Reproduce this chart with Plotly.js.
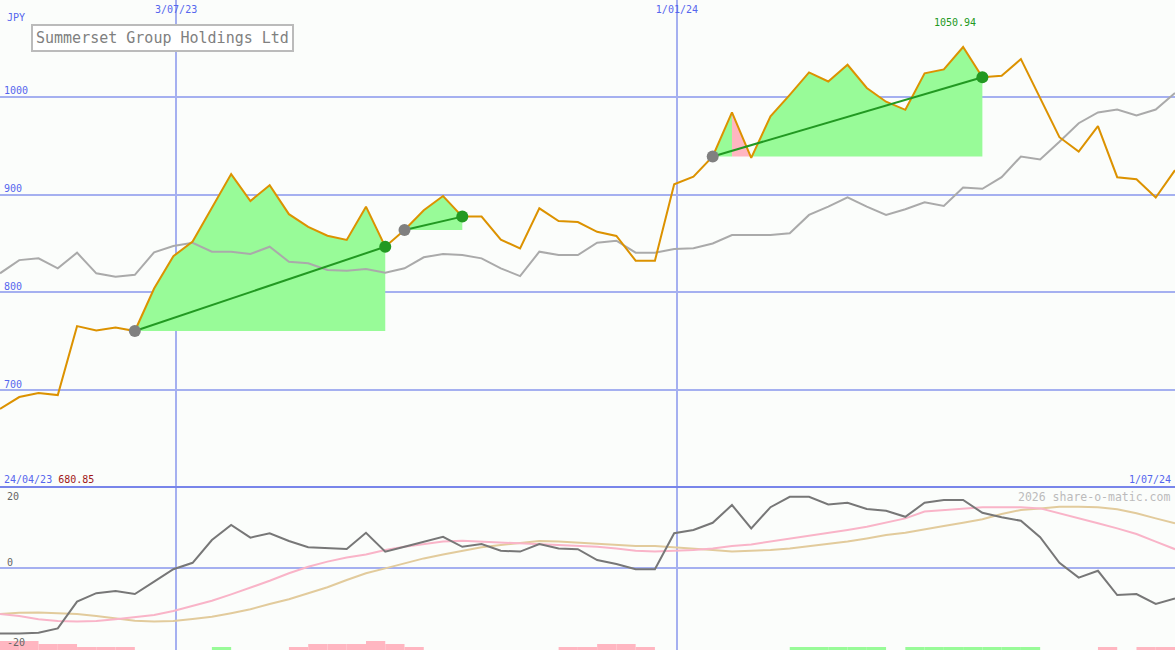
<!DOCTYPE html>
<html>
<head>
<meta charset="utf-8">
<script src="https://cdn.plot.ly/plotly-3.0.1.min.js"></script>
<style>html,body{margin:0;padding:0;background:#fbfdfb;}#chart{width:1175px;height:650px;}</style>
</head>
<body>
<div id="chart"></div>
<script>
// ---- data (weekly) ----
const dates = ['2023-04-30','2023-05-07','2023-05-14','2023-05-21','2023-05-28','2023-06-04','2023-06-11','2023-06-18','2023-06-25',
'2023-07-02','2023-07-09','2023-07-16','2023-07-23','2023-07-30','2023-08-06','2023-08-13','2023-08-20','2023-08-27',
'2023-09-03','2023-09-10','2023-09-17','2023-09-24','2023-10-01','2023-10-08','2023-10-15','2023-10-22','2023-10-29',
'2023-11-05','2023-11-12','2023-11-19','2023-11-26','2023-12-03','2023-12-10','2023-12-17','2023-12-24','2023-12-31',
'2024-01-07','2024-01-14','2024-01-21','2024-01-28','2024-02-04','2024-02-11','2024-02-18','2024-02-25','2024-03-03',
'2024-03-10','2024-03-17','2024-03-24','2024-03-31','2024-04-07','2024-04-14','2024-04-21','2024-04-28','2024-05-05',
'2024-05-12','2024-05-19','2024-05-26','2024-06-02','2024-06-09','2024-06-16','2024-06-23','2024-06-30'];

const price = [680.85,693,697,695,765.5,761,764,760.5,804,837,852,886,921,893.5,909.6,880,867,858,853.6,887.7,
846.7,863.8,884,898.6,877.5,877.5,854,845,886,873,872,862,857.7,832.4,832.4,910.6,918.4,939,984,937.5,
980,1002,1025,1015.7,1032.8,1009,995,986.7,1024,1028,1050.94,1020,1021.5,1038.6,998,958.7,944,970,917.8,915.7,
897,925];

const relative = [819.5,833,834.8,824.6,840.6,819.5,816,818,841,847.5,850.8,841.6,841.6,839.3,846.7,831.4,829.7,822.9,822.2,824,
820.1,824.6,835.9,839.3,838.2,834.8,824.6,816.7,841.6,838.2,838.2,850.8,852.9,840.6,840.6,844.4,845.1,850,858.7,858.7,
858.7,860.4,879.2,887.7,897.3,887.7,879.2,885,892.2,888.4,907.2,906,917.8,939,936,954,973,984,987,981,
987,1004];

const macd = [-16.4,-16.4,-16.2,-15.1,-8.4,-6.3,-5.75,-6.5,-3.4,-0.3,1.3,7,10.75,7.6,8.7,6.75,5.2,4.9,4.75,8.8,
4.1,5.3,6.6,7.8,5.3,6,4.3,4.1,6,4.9,4.7,2,1,-0.3,-0.3,8.7,9.5,11.3,15.75,9.9,
15.2,17.8,17.8,15.9,16.3,14.75,14.3,12.8,16.3,17,17,13.8,12.7,11.8,7.7,1.3,-2.4,-0.7,-6.75,-6.5,
-9,-7.6];

const signalPink = [-11.5,-12,-12.8,-13.25,-13.4,-13.25,-12.8,-12.3,-11.75,-10.75,-9.5,-8.2,-6.6,-4.9,-3.2,-1.3,0.3,1.6,2.6,3.4,
4.5,5.3,6,6.6,6.8,6.6,6.3,6.2,6,5.7,5.5,5.3,4.9,4.3,4.1,4.3,4.5,4.9,5.5,5.9,
6.6,7.4,8,8.7,9.5,10.3,11.3,12.4,14.1,14.5,14.9,15.2,15.2,15.2,14.9,13.7,12.4,11.2,9.9,8.5,
6.6,4.7];

const signalTan = [-11.5,-11.2,-11.1,-11.3,-11.5,-12,-12.6,-13.2,-13.4,-13.25,-12.75,-12.2,-11.3,-10.3,-9,-7.8,-6.3,-4.8,-3,-1.3,
-0.1,1.2,2.4,3.4,4.3,5.2,5.75,6.3,6.75,6.6,6.3,6,5.75,5.5,5.5,5.2,4.9,4.5,4.1,4.3,
4.5,4.9,5.5,6,6.6,7.4,8.25,8.8,9.7,10.5,11.3,12.2,13.5,14.5,14.9,15.3,15.3,15.2,14.7,13.7,
12.4,11.2];

// strip levels (negative = pink, positive = green)
const strip = [-3,-3,-2,-2,-1,-1,-1,0,0,0,0,1,0,0,0,-1,-2,-2,-2,-3,
-2,-1,0,0,0,0,0,0,0,-1,-1,-2,-2,-1,0,0,0,0,0,0,
0,1,1,1,1,1,0,1,1,1,1,1,1,1,0,0,0,-1,0,-1,
-1,0];

const tradeEntry = [7, 21, 37];
const tradeExit = [20, 24, 51];

const xTickVals = ['2023-07-03','2024-01-01'];
const xTickText = ['3/07/23','1/01/24'];
const yTickVals = [700, 800, 900, 1000];
const bottomTicks = [20, 0, -20];
const titleText = 'Summerset Group Holdings Ltd';
const currency = 'JPY';
const startLabel = '24/04/23';
const endLabel = '1/07/24';
const watermark = '2026 share-o-matic.com';

// ---- styles ----
const BG = '#fbfdfb';
const GRID = '#a5b0f0';
const BLUE = '#5566ee';
const GREEN_FILL = '#98fb98';
const PINK_FILL = '#ffb6c1';
const TRADE_GREEN = '#229922';
const FONT = 'DejaVu Sans Mono, Liberation Mono, monospace';
const H = 650, W = 1175;

const traces = [];

// trade fills
tradeEntry.forEach((e, t) => {
  const x = tradeExit[t];
  const base = price[e];
  const runs = [];
  for (let k = e; k < x; k++) {
    const col = price[k + 1] < base ? PINK_FILL : GREEN_FILL;
    if (runs.length && runs[runs.length - 1].col === col) runs[runs.length - 1].end = k + 1;
    else runs.push({start: k, end: k + 1, col: col});
  }
  runs.forEach(r => {
    const xs = dates.slice(r.start, r.end + 1);
    traces.push({x: xs, y: xs.map(() => base), xaxis: 'x', yaxis: 'y', mode: 'lines',
      line: {width: 0, color: r.col}, hoverinfo: 'skip', showlegend: false});
    traces.push({x: xs, y: price.slice(r.start, r.end + 1), xaxis: 'x', yaxis: 'y', mode: 'lines',
      line: {width: 0, color: r.col}, fill: 'tonexty', fillcolor: r.col, hoverinfo: 'skip', showlegend: false});
  });
});

// relative (grey) and price (orange)
traces.push({x: dates, y: relative, xaxis: 'x', yaxis: 'y', mode: 'lines', line: {color: '#aaaaaa', width: 2}, showlegend: false});
traces.push({x: dates, y: price, xaxis: 'x', yaxis: 'y', mode: 'lines', line: {color: '#dc9200', width: 2}, showlegend: false});

// trade lines and markers
tradeEntry.forEach((e, t) => {
  const x = tradeExit[t];
  traces.push({x: [dates[e], dates[x]], y: [price[e], price[x]], xaxis: 'x', yaxis: 'y', mode: 'lines',
    line: {color: TRADE_GREEN, width: 2}, showlegend: false});
});
traces.push({x: tradeEntry.map(i => dates[i]), y: tradeEntry.map(i => price[i]), xaxis: 'x', yaxis: 'y', mode: 'markers',
  marker: {color: '#808080', size: 12}, showlegend: false});
traces.push({x: tradeExit.map(i => dates[i]), y: tradeExit.map(i => price[i]), xaxis: 'x', yaxis: 'y', mode: 'markers',
  marker: {color: TRADE_GREEN, size: 12}, showlegend: false});

// bottom panel
traces.push({x: dates, y: signalTan, xaxis: 'x', yaxis: 'y2', mode: 'lines', line: {color: '#e2cb9c', width: 2}, showlegend: false});
traces.push({x: dates, y: signalPink, xaxis: 'x', yaxis: 'y2', mode: 'lines', line: {color: '#f9b4c8', width: 2}, showlegend: false});
traces.push({x: dates, y: macd, xaxis: 'x', yaxis: 'y2', mode: 'lines', line: {color: '#777777', width: 2}, showlegend: false});

// strip bars
const WEEK = 7 * 24 * 3600 * 1000;
traces.push({type: 'bar', x: dates, y: strip.map(v => Math.abs(v)), xaxis: 'x', yaxis: 'y3',
  width: WEEK, offset: 0, marker: {color: strip.map(v => v < 0 ? PINK_FILL : GREEN_FILL), line: {width: 0}},
  hoverinfo: 'skip', showlegend: false});

const splitY = 163 / H;
const maxPrice = Math.max(...price);
const maxIdx = price.indexOf(maxPrice);

const annotations = [
  {xref: 'paper', yref: 'paper', x: 5 / W, y: 1 - 17 / H, xanchor: 'left', yanchor: 'middle', showarrow: false,
    text: currency, font: {family: FONT, size: 10, color: BLUE}},
  {xref: 'paper', yref: 'paper', x: 31 / W, y: 1 - 24 / H, xanchor: 'left', yanchor: 'top', showarrow: false,
    text: titleText, font: {family: FONT, size: 15, color: '#808080'}, bgcolor: '#ffffff',
    bordercolor: '#bbbbbb', borderwidth: 2, borderpad: 3},
  {xref: 'x', yref: 'paper', x: dates[maxIdx], y: 1 - 22 / H, xshift: -8, xanchor: 'center', yanchor: 'middle', showarrow: false,
    text: maxPrice.toFixed(2), font: {family: FONT, size: 10, color: TRADE_GREEN}},
  {xref: 'paper', yref: 'paper', x: 2 / W, y: 1 - 479 / H, xanchor: 'left', yanchor: 'middle', showarrow: false,
    text: startLabel + ' <span style="color:#a01818">' + price[0].toFixed(2) + '</span>', font: {family: FONT, size: 10, color: BLUE}},
  {xref: 'paper', yref: 'paper', x: 1173 / W, y: 1 - 479 / H, xanchor: 'right', yanchor: 'middle', showarrow: false,
    text: endLabel, font: {family: FONT, size: 10, color: BLUE}},
  {xref: 'paper', yref: 'paper', x: 1172 / W, y: 1 - 497 / H, xanchor: 'right', yanchor: 'middle', showarrow: false,
    text: watermark, font: {family: FONT, size: 11.5, color: '#bbbbbb'}}
];
bottomTicks.forEach((v, i) => {
  annotations.push({xref: 'paper', yref: 'y2', x: 5 / W, y: v, xanchor: 'left', yanchor: 'middle', showarrow: false,
    yshift: i === 0 ? -8 : 6, text: String(v), font: {family: FONT, size: 10, color: '#666666'}});
});

const layout = {
  width: W, height: H,
  margin: {l: 0, r: 0, t: 0, b: 0, pad: 0},
  paper_bgcolor: BG, plot_bgcolor: BG,
  showlegend: false, hovermode: false,
  xaxis: {type: 'date', range: [dates[0], dates[dates.length - 1]], anchor: 'y', side: 'top',
    tickvals: xTickVals, ticktext: xTickText, ticklabelposition: 'inside', ticklabelstandoff: 3, ticks: '',
    showgrid: true, gridcolor: GRID, gridwidth: 2, showline: false, zeroline: false,
    tickfont: {family: FONT, size: 10, color: BLUE}},
  yaxis: {domain: [splitY, 1], range: [601, 1099], tickvals: yTickVals, ticklabelposition: 'inside',
    ticklabelshift: -6, ticklabelstandoff: 1, ticks: '', showgrid: true, gridcolor: GRID, gridwidth: 2,
    zeroline: false, showline: false, tickfont: {family: FONT, size: 10, color: BLUE}},
  yaxis2: {domain: [0, splitY], range: [-20.5, 20.25], anchor: 'x', showgrid: false, showticklabels: false, ticks: '',
    zeroline: true, zerolinecolor: GRID, zerolinewidth: 2, showline: false},
  yaxis3: {overlaying: 'y2', anchor: 'x', range: [0, 163 / 3], visible: false},
  shapes: [
    {type: 'line', xref: 'paper', yref: 'paper', x0: 0, x1: 1, y0: 1 - 487 / H, y1: 1 - 487 / H,
      line: {color: '#7885ea', width: 2}, layer: 'above'}
  ],
  annotations: annotations
};

Plotly.newPlot('chart', traces, layout, {staticPlot: true, displayModeBar: false});
</script>
</body>
</html>
